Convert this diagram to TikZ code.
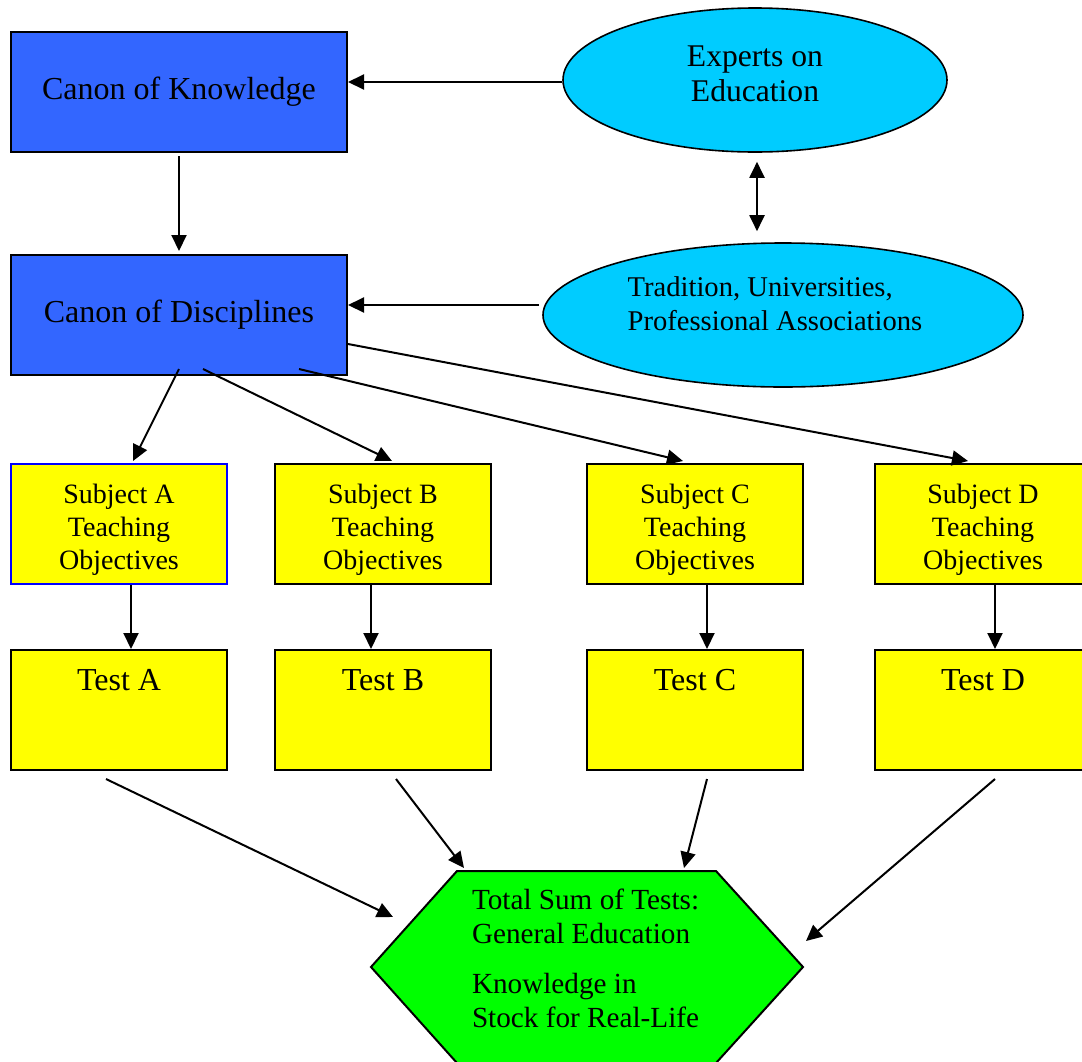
\documentclass[tikz,border=0pt]{standalone}
\usepackage{fontspec}
\setmainfont{Liberation Serif}
\usetikzlibrary{shapes.geometric, positioning, arrows.meta, calc}
\definecolor{canonblue}{HTML}{3366FF}
\definecolor{expcyan}{HTML}{00CCFF}
\definecolor{subjyellow}{HTML}{FFFF00}
\definecolor{sumgreen}{HTML}{00FF00}

\begin{document}
\begin{tikzpicture}[x=0.5pt, y=-0.5pt, line width=1pt, node distance=32pt,
	arr/.style={-{Triangle[length=8pt,width=7.5pt]}},
	canon/.style={draw, fill=canonblue, minimum width=168pt, minimum height=60pt, inner sep=0pt, font=\fontsize{16}{18}\selectfont},
	source/.style={draw, ellipse, fill=expcyan, inner sep=0pt, line width=0.8pt},
	subj/.style={draw, fill=subjyellow, minimum width=108pt, minimum height=60pt, inner sep=0pt, align=center, font=\fontsize{14}{16.5}\selectfont},
	test/.style={draw, fill=subjyellow, minimum width=108pt, inner sep=0pt, text height=20pt, text depth=40pt, font=\fontsize{16}{18}\selectfont}]
			\useasboundingbox (0,0) rectangle (1082,1061);
			\clip (0,0) rectangle (1082,1061);
			% canons and sources
			\node[canon] (ck) at (179,92) {Canon of Knowledge};
			\node[canon] (cd) at (179,315) {Canon of Disciplines};
			\node[source, minimum width=192pt, minimum height=72pt, align=center, font=\fontsize{15.8}{17.5}\selectfont] (ee) at (755,80) {Experts on\\Education\rule[-6pt]{0pt}{1pt}};
			\node[source, minimum width=240pt, minimum height=72pt, align=left, font=\fontsize{14.3}{17}\selectfont] (tu) at (783,315) {Tradition, Universities,\\Professional Associations\rule[-11pt]{8pt}{0pt}};
			% subjects
			\node[subj, draw=blue] (sa) at (119,524) {\rule{0pt}{15pt}Subject A\\Teaching\\Objectives};
			\node[subj] (sb) at (383,524) {\rule{0pt}{15pt}Subject B\\Teaching\\Objectives};
			\node[subj] (sc) at (695,524) {\rule{0pt}{15pt}Subject C\\Teaching\\Objectives};
			\node[subj] (sd) at (983,524) {\rule{0pt}{15pt}Subject D\\Teaching\\Objectives};
			% tests
			\node[test, below=32pt of sa] (ta) {Test A};
			\node[test, below=32pt of sb] (tb) {Test B};
			\node[test, below=32pt of sc] (tc) {Test C};
			\node[test, below=32pt of sd] (td) {Test D};
			% total sum
			\draw[fill=sumgreen] (457,871) -- (716,871) -- (803,967) -- (716,1063) -- (457,1063) -- (371,967) -- cycle;
			\node[align=left, anchor=north west, inner sep=0pt, font=\fontsize{14.6}{17}\selectfont] (ts) at (471,888) {Total Sum of Tests:\\General Education\\[8pt]Knowledge in\\Stock for Real-Life};
			\coordinate (hA) at (393,917);
			\coordinate (hB) at (464,868);
			\coordinate (hC) at (684,868);
			\coordinate (hD) at (806,941);
			\coordinate (tuw) at ($(tu.west)+(-3,-10)$);
			% arrows
			\draw[arr] ([yshift=-1pt]ee.west) -- ([yshift=-1pt]ee.west -| ck.east);
			\draw[arr] (tuw) -- (tuw -| cd.east);
			\draw[{Triangle[length=8pt,width=7.5pt]}-{Triangle[length=8pt,width=7.5pt]}] ($(ee.south)+(2,9)$) -- ($(tu.north)+(-26,-11)$);
			\draw[arr] ($(ck.south)+(0,3)$) -- ($(cd.north)+(0,-3)$);
			\draw[arr] ($(cd.south)+(0,-7)$) -- ($(sa.north)+(14,-2)$);
			\draw[arr] ($(cd.south)+(24,-7)$) -- ($(sb.north)+(9,-2)$);
			\draw[arr] ($(cd.south)+(120,-7)$) -- ($(sc.north)+(-12,-2)$);
			\draw[arr] ($(cd.east)+(0,29)$) -- ($(sd.north)+(-15,-2)$);
			\draw[arr] ($(sa.south)+(12,0)$) -- ($(ta.north)+(12,0)$);
			\draw[arr] ($(sb.south)+(-12,0)$) -- ($(tb.north)+(-12,0)$);
			\draw[arr] ($(sc.south)+(12,0)$) -- ($(tc.north)+(12,0)$);
			\draw[arr] ($(sd.south)+(12,0)$) -- ($(td.north)+(12,0)$);
			\draw[arr] ($(ta.south)+(-13,8)$) -- (hA);
			\draw[arr] ($(tb.south)+(13,8)$) -- (hB);
			\draw[arr] ($(tc.south)+(12,8)$) -- (hC);
			\draw[arr] ($(td.south)+(12,8)$) -- (hD);
		\end{tikzpicture}
\end{document}
